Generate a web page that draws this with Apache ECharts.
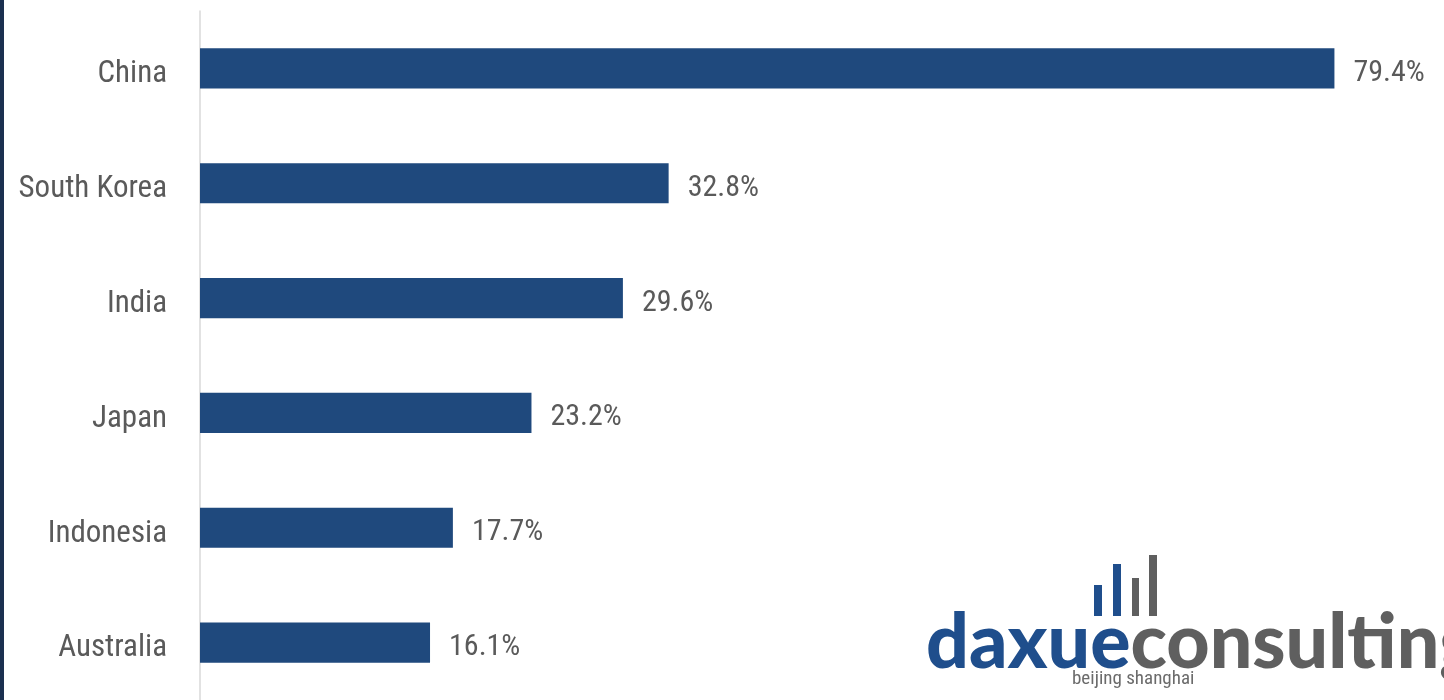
<!DOCTYPE html>
<html>
<head>
<meta charset="utf-8">
<script src="https://cdn.jsdelivr.net/npm/echarts@6/dist/echarts.min.js"></script>
<style>
html,body{margin:0;padding:0;background:#fff;}
#chart{width:1444px;height:700px;}
</style>
</head>
<body>
<div id="chart"></div>
<script>
const categories = ['China', 'South Korea', 'India', 'Japan', 'Indonesia', 'Australia'];
const values = [79.4, 32.8, 29.6, 23.2, 17.7, 16.1];
const valueLabels = ['79.4%', '32.8%', '29.6%', '23.2%', '17.7%', '16.1%'];

const narrow = "'Liberation Sans Narrow', 'Arial Narrow', 'Roboto Condensed', 'Liberation Sans', sans-serif";
const chart = echarts.init(document.getElementById('chart'));
chart.setOption({
  backgroundColor: '#ffffff',
  animation: false,
  grid: { left: 200, right: 101, top: 11, bottom: 0, containLabel: false },
  xAxis: { type: 'value', min: 0, max: 80, show: false, splitLine: { show: false } },
  yAxis: {
    type: 'category',
    data: categories,
    inverse: true,
    axisLine: { show: true, lineStyle: { color: '#d9d9d9', width: 1.5 } },
    axisTick: { show: false },
    axisLabel: {
      margin: 33,
      formatter: v => '{v|' + v + '}',
      rich: { v: { color: '#5a5a5a', fontSize: 31, fontFamily: narrow, padding: [12, 0, 0, 0] } }
    }
  },
  series: [{
    type: 'bar',
    data: values,
    barCategoryGap: '65%',
    itemStyle: { color: '#1f497d' },
    label: {
      show: true,
      position: 'right',
      distance: 19,
      offset: [0, 5],
      color: '#5a5a5a',
      fontSize: 30,
      fontFamily: narrow,
      formatter: p => valueLabels[p.dataIndex]
    }
  }],
  graphic: [
    { type: 'rect', left: 0, top: 0, shape: { width: 4, height: 700 }, style: { fill: '#1b3050' } },
    // logo bars
    { type: 'rect', left: 1094, top: 585, shape: { width: 8, height: 31 }, style: { fill: '#1f4e8c' } },
    { type: 'rect', left: 1113, top: 564, shape: { width: 8, height: 52 }, style: { fill: '#1f4e8c' } },
    { type: 'rect', left: 1132, top: 578, shape: { width: 7, height: 38 }, style: { fill: '#5f5f5f' } },
    { type: 'rect', left: 1149, top: 555, shape: { width: 8, height: 61 }, style: { fill: '#5f5f5f' } },
    { type: 'text', left: 926, top: 605, scaleX: 0.99, style: {
        text: '{a|daxue}{b|consulting}',
        rich: {
          a: { fontSize: 76, fontWeight: 900, fontFamily: 'Lato, sans-serif', fill: '#1f4e8c' },
          b: { fontSize: 76, fontWeight: 900, fontFamily: 'Lato, sans-serif', fill: '#5f5f5f' }
        }
    } },
    { type: 'text', left: 1072, top: 670, style: { text: 'beijing shanghai', fontSize: 19, fontFamily: narrow, fill: '#6b6b6b' } }
  ]
});
</script>
</body>
</html>
